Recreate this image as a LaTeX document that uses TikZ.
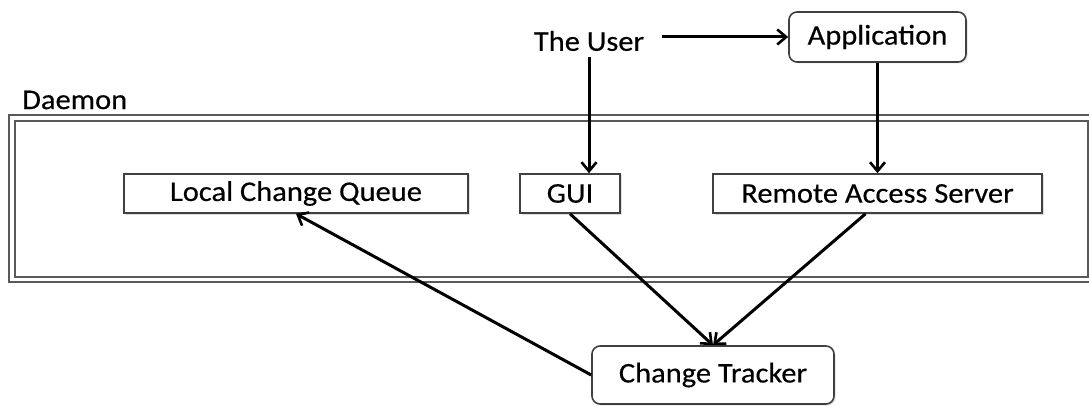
\documentclass[tikz,border=0pt]{standalone}
\usepackage{fontspec}
\setmainfont{Carlito}[FakeStretch=1.07,FakeBold=0.35]
\usetikzlibrary{arrows.meta,shadows}

\begin{document}
\begin{tikzpicture}[x=1pt,y=-1pt,
  lbl/.style={font=\fontsize{28.5}{32}\selectfont, inner sep=0pt},
  box/.style={lbl, draw=black!75, line width=1.6pt, fill=white,
    drop shadow={opacity=0.25, shadow xshift=1.5pt, shadow yshift=-1.5pt}},
  rbox/.style={box, rounded corners=8pt},
  flow/.style={line width=3pt, -{Straight Barb[length=9pt,width=15pt,line width=2.6pt]}},
  frame/.style={draw=black!65, line width=1.9pt}
]
\useasboundingbox (0,0) rectangle (1089,406);

% daemon enclosure (double border running off to the right)
\draw[frame] (9,115) rectangle (1100,282);
\draw[frame] (15,121) rectangle (1088,277);
\node[lbl, anchor=west] (daemon) at (22,100) {Daemon};

% components inside the daemon
\node[box, minimum width=344pt, minimum height=39pt] (lcq) at (296,193.5) {Local Change Queue};
\node[box, minimum width=100pt, minimum height=39pt] (gui) at (570,193.5) {GUI};
\node[box, minimum width=329pt, minimum height=39pt] (ras) at (877.5,193.5) {Remote Access Server};

% outside actors
\node[lbl] (user) at (589,41) {The User};
\node[rbox, minimum width=177pt, minimum height=50pt] (app) at (877.5,37) {Application};
\node[rbox, minimum width=242pt, minimum height=58pt] (tracker) at (713,375) {Change Tracker};

% connectors
\draw[flow] (662,37) -- (app.west);
\draw[flow] ([yshift=-6pt]user.south) -- (user.south |- gui.north);
\draw[flow] (app.south) -- (ras.north);
\draw[flow] (gui.south) -- (tracker.north);
\draw[flow] ([xshift=-12pt]ras.south) -- (tracker.north);
\draw[flow] (tracker.west) -- (lcq.south);
\end{tikzpicture}
\end{document}
